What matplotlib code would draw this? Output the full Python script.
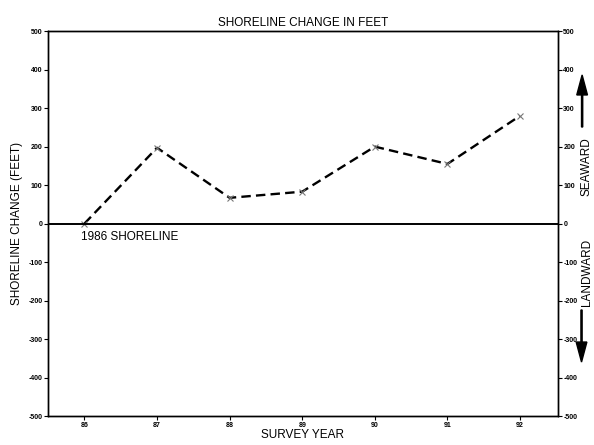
import matplotlib
matplotlib.use("Agg")
import matplotlib.pyplot as plt
from matplotlib.patches import FancyArrow

plt.rcParams['font.family'] = ['Liberation Sans Narrow', 'Liberation Sans', 'DejaVu Sans']

years = [86, 87, 88, 89, 90, 91, 92]
change = [0, 197, 67, 83, 200, 155, 280]
yticks = [-500, -400, -300, -200, -100, 0, 100, 200, 300, 400, 500]
xtick_labels = ['86', '87', '88', '89', '90', '91', '92']

fig = plt.figure(figsize=(5.94, 4.45), dpi=100)
ax = fig.add_axes([0.081, 0.065, 0.858, 0.865])

ax.plot(years, change, linestyle=(0, (4, 2.2)), color='black', lw=1.7,
        marker='x', markersize=5, markeredgecolor='#777777', markeredgewidth=0.8)
ax.axhline(0, color='black', lw=1.4)

ax.set_xlim(85.5, 92.52)
ax.set_ylim(-500, 500)
ax.set_xticks(years)
ax.set_xticklabels(xtick_labels)
ax.set_yticks(yticks)
ax.set_yticklabels([str(v) for v in yticks])
ax.tick_params(axis='both', labelsize=5, length=3, width=0.8, direction='out', pad=1)
for lbl in ax.get_xticklabels() + ax.get_yticklabels():
    lbl.set_fontweight('bold')

ax2 = ax.twinx()
ax2.set_ylim(-500, 500)
ax2.set_yticks(yticks)
ax2.set_yticklabels([str(v) for v in yticks])
ax2.tick_params(axis='y', labelsize=5, length=3, width=0.8, direction='out', pad=1)
for lbl in ax2.get_yticklabels():
    lbl.set_fontweight('bold')

for a in (ax, ax2):
    for s in a.spines.values():
        s.set_linewidth(1.0)

ax.set_title('SHORELINE CHANGE IN FEET', fontsize=8.5, pad=4)
ax.set_xlabel('SURVEY YEAR', fontsize=8.5, labelpad=0)
ax.set_ylabel('SHORELINE CHANGE (FEET)', fontsize=8.5, labelpad=4)

ax.text(85.95, -18, '1986 SHORELINE', fontsize=8.5, ha='left', va='top')

fig.text(0.988, 0.625, 'SEAWARD', rotation=90, fontsize=8.5, ha='center', va='center')
fig.text(0.988, 0.387, 'LANDWARD', rotation=90, fontsize=8.5, ha='center', va='center')

fig.patches.append(FancyArrow(0.980, 1 - 127 / 445, 0, 0.117, width=0.002,
                              head_width=0.018, head_length=0.045, color='black',
                              transform=fig.transFigure, length_includes_head=True))
fig.patches.append(FancyArrow(0.979, 1 - 310 / 445, 0, -0.117, width=0.002,
                              head_width=0.018, head_length=0.045, color='black',
                              transform=fig.transFigure, length_includes_head=True))

fig.savefig('out.png', dpi=100)
